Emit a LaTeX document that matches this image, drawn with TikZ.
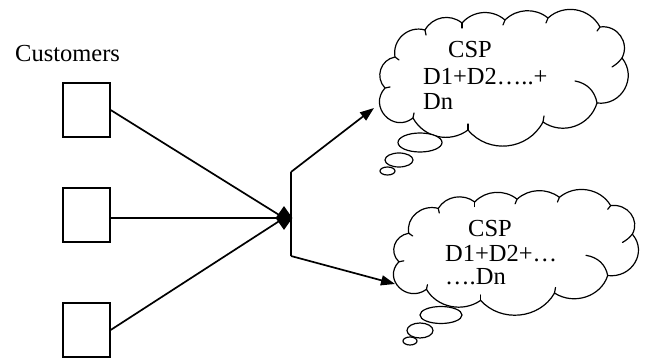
\documentclass[tikz,border=0pt]{standalone}
\usepackage{fontspec}
\setmainfont{Liberation Serif}
\usetikzlibrary{arrows.meta,shapes.geometric}

% Outline of a thought cloud, drawn in its own local frame (top-left at 0,0)
\newcommand{\thoughtoutline}{%
  \draw[cloudline]
    (8,78)   to[bend left=62,looseness=1.16] (18,47)
             to[bend left=58,looseness=1.11] (48,20)
             to[bend left=50,looseness=1.04] (85,13)
             to[bend left=45,looseness=1.00] (128,10)
             to[bend left=42,looseness=0.98] (171,8)
             to[bend left=52,looseness=1.05] (223,17)
             to[bend left=63,looseness=1.17] (245,48)
             to[bend left=68,looseness=1.24] (220,93)
             to[bend left=54,looseness=1.07] (166,112)
             to[bend left=56,looseness=1.09] (91,120)
             to[bend left=49,looseness=1.03] (36,108)
             to[bend left=85,looseness=1.57] (8,78);
  % small hooks where the puffs meet
  \draw[cloudline] (8,78) -- (13,77);
  \draw[cloudline] (18,47) -- (22,50);
  \draw[cloudline] (48,20) -- (49,25);
  \draw[cloudline] (85,13) -- (85,18);
  \draw[cloudline] (128,10) -- (126,15);
  \draw[cloudline] (171,8) -- (169,13);
  \draw[cloudline] (223,17) -- (220,21);
  \draw[cloudline] (245,48) to[bend left=10] (235,57);
  \draw[cloudline] (220,93) to[bend right=35] (198,71);
  \draw[cloudline] (166,112) -- (167,106);
  \draw[cloudline] (91,120) -- (91,114);
  \draw[cloudline] (36,108) -- (37,103);
}

\begin{document}
\begin{tikzpicture}[x=1pt,y=-1pt,
  txt/.style={anchor=base west, inner sep=0pt, font=\fontsize{24.5}{29}\selectfont},
  custbox/.style={draw, line width=1.3pt, minimum width=47pt, minimum height=54pt, inner sep=0pt},
  link/.style={line width=1.7pt},
  flow/.style={line width=1.7pt, -{Triangle[length=14pt,width=10pt]}},
  puff/.style={draw, line width=1.2pt, fill=white},
  cloudline/.style={line width=1.2pt, line join=round, line cap=round}]

\useasboundingbox (0,0) rectangle (649,358);

% customers
\node[txt] (custlabel) at (15,62) {Customers};
\node[custbox] (box1) at (86.5,110) {};
\node[custbox] (box2) at (86.5,215) {};
\node[custbox] (box3) at (86.5,330) {};

% merge point
\node[diamond, fill=black, minimum width=17pt, minimum height=24pt, inner sep=0pt] (hub) at (284,218) {};

\draw[link] (box1.east) -- (hub.center);
\draw[link] (box2.east |- hub.center) -- (hub.center);
\draw[link] (box3.east) -- (hub.center);

% split towards the two providers
\coordinate (splittop) at (291,172);
\coordinate (splitbot) at (291,256);
\coordinate (tipone) at (374,108);
\coordinate (tiptwo) at (395,284);
\draw[link] (splittop) -- (splitbot);
\draw[flow] (splittop) -- (tipone);
\draw[flow] (splitbot) -- (tiptwo);

% first cloud
\begin{scope}[shift={(377,10)}]
  \thoughtoutline
\end{scope}
\node[puff, ellipse, minimum width=44pt, minimum height=19pt, inner sep=0pt] (bubA1) at (420,142.5) {};
\node[puff, ellipse, minimum width=28pt, minimum height=14pt, inner sep=0pt] (bubA2) at (399,160) {};
\node[puff, ellipse, minimum width=15pt, minimum height=8pt, inner sep=0pt] (bubA3) at (387.5,171) {};
\node[txt] (cspA) at (448,58) {CSP};
\node[txt] (sumA) at (423,85) {D1+D2…..+};
\node[txt] (dnA) at (423,110) {Dn};

% second cloud
\begin{scope}[shift={(391,190)}, xscale=0.985, yscale=0.92]
  \thoughtoutline
\end{scope}
\node[puff, ellipse, minimum width=42pt, minimum height=17pt, inner sep=0pt] (bubB1) at (441,315) {};
\node[puff, ellipse, minimum width=26pt, minimum height=15pt, inner sep=0pt] (bubB2) at (420,330.5) {};
\node[puff, ellipse, minimum width=14pt, minimum height=8pt, inner sep=0pt] (bubB3) at (410,341) {};
\node[txt] (cspB) at (468,237) {CSP};
\node[txt] (sumB) at (445,262) {D1+D2+…};
\node[txt] (dnB) at (445,285) {….Dn};

\end{tikzpicture}
\end{document}
